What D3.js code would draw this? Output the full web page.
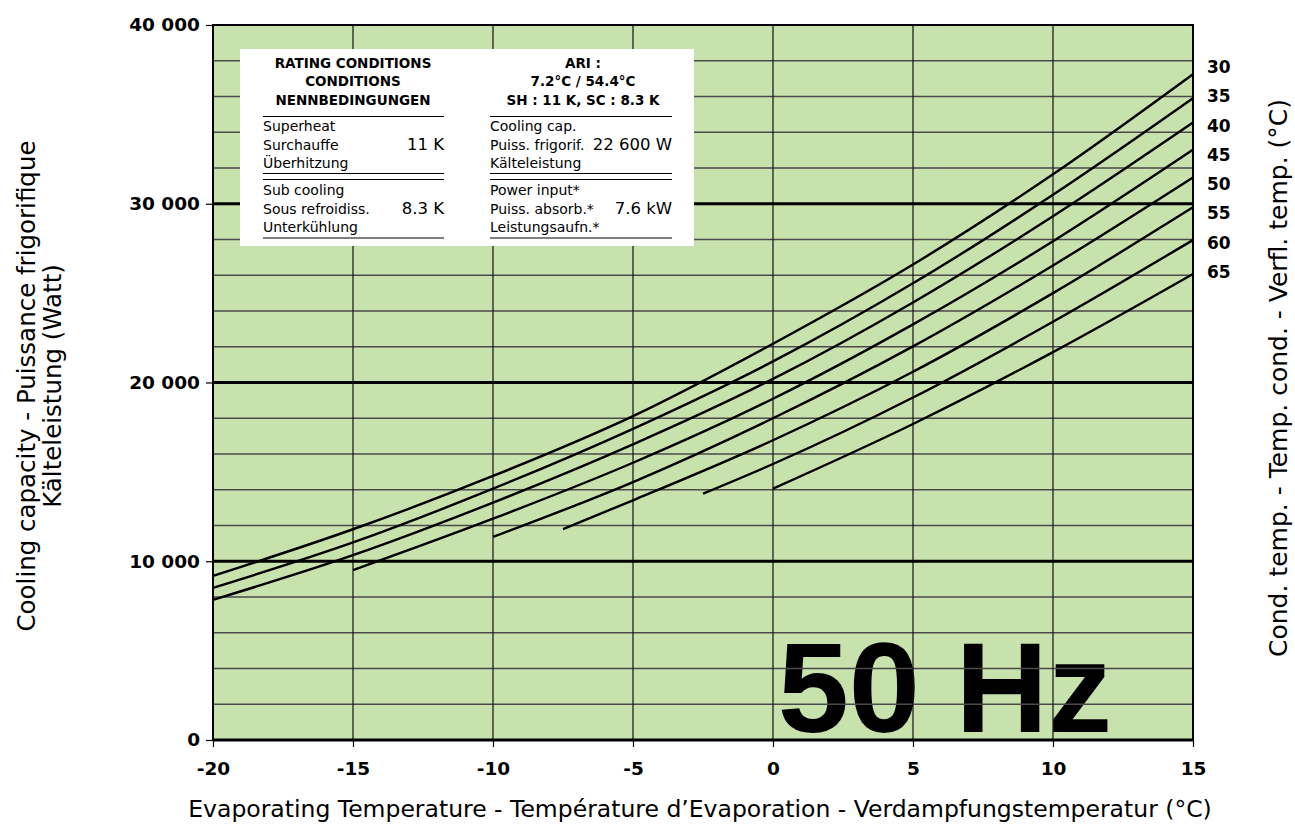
<!DOCTYPE html>
<html>
<head>
<meta charset="utf-8">
<script src="https://cdn.jsdelivr.net/npm/d3@7"></script>
<style>
  body { margin: 0; background: #fff; }
  svg { font-family: "DejaVu Sans", "Liberation Sans", Arial, sans-serif; }
  .tick text { font-weight: bold; }
</style>
</head>
<body>
<svg width="1295" height="828"></svg>
<script>
// x ticks (evaporating temp) and y ticks (capacity)
var xTicks = [-20, -15, -10, -5, 0, 5, 10, 15]
var yTicks = [0, 10000, 20000, 30000, 40000]
var yGrid = [2000, 4000, 6000, 8000, 12000, 14000, 16000, 18000, 22000, 24000, 26000, 28000, 32000, 34000, 36000, 38000]

// condensing temps, one curve each
var condTemps = [30, 35, 40, 45, 50, 55, 60, 65]

// [evap temp, cooling capacity W]
var line30 = [[-20, 9180], [-15, 11790], [-10, 14770], [-5, 18120], [0, 22170], [5, 26600], [10, 31650], [15, 37250]]
var line35 = [[-20, 8510], [-15, 11050], [-10, 14060], [-5, 17410], [0, 21180], [5, 25550], [10, 30500], [15, 35900]]
var line40 = [[-20, 7840], [-15, 10340], [-10, 13280], [-5, 16540], [0, 20200], [5, 24480], [10, 29300], [15, 34540]]
var line45 = [[-15, 9500], [-10, 12380], [-5, 15510], [0, 19090], [5, 23250], [10, 27900], [15, 33020]]
var line50 = [[-10, 11360], [-5, 14430], [0, 18000], [5, 22020], [10, 26550], [15, 31470]]
var line55 = [[-7.5, 11800], [-5, 13410], [0, 16770], [5, 20600], [10, 25000], [15, 29800]]
var line60 = [[-2.5, 13780], [0, 15440], [5, 19160], [10, 23400], [15, 27970]]
var line65 = [[0, 14060], [5, 17680], [10, 21700], [15, 26070]]
var lines = [line30, line35, line40, line45, line50, line55, line60, line65]

// rating conditions box text
var boxHeadLeft = ["RATING CONDITIONS", "CONDITIONS", "NENNBEDINGUNGEN"]
var boxHeadRight = ["ARI :", "7.2°C / 54.4°C", "SH : 11 K, SC : 8.3 K"]
var rowsLeft1 = ["Superheat", "Surchauffe", "Überhitzung"]
var rowsLeft2 = ["Sub cooling", "Sous refroidiss.", "Unterkühlung"]
var rowsRight1 = ["Cooling cap.", "Puiss. frigorif.", "Kälteleistung"]
var rowsRight2 = ["Power input*", "Puiss. absorb.*", "Leistungsaufn.*"]
var boxValues = ["11 K", "8.3 K", "22 600 W", "7.6 kW"]

var margins = {left: 213, right: 102, top: 25, bottom: 88}
var graph = {width: 1295 - margins.left - margins.right, height: 828 - margins.top - margins.bottom}

var svg = d3.select("svg")

var xScale = d3.scaleLinear().domain([-20, 15]).range([0, graph.width])
var yScale = d3.scaleLinear().domain([0, 40000]).range([graph.height, 0])

var fmt = function(v)
{
    return v == 0 ? "0" : d3.format(",")(v).replace(/,/g, " ")
}

var target = svg.append("g")
    .attr("id", "graph")
    .attr("transform", "translate(" + margins.left + "," + margins.top + ")")

target.append("rect")
    .attr("width", graph.width)
    .attr("height", graph.height)
    .attr("fill", "#c8e2ad")

// big label sits under the grid
target.append("text")
    .text("50 Hz")
    .attr("x", 899)
    .attr("y", 707)
    .attr("text-anchor", "end")
    .attr("font-family", "'Liberation Sans', Arial, sans-serif")
    .attr("font-weight", "bold")
    .attr("font-size", 128)
    .attr("fill", "#000")

target.append("g")
    .selectAll("line")
    .data(yGrid)
    .enter()
    .append("line")
    .attr("x1", 0)
    .attr("x2", graph.width)
    .attr("y1", function(d) { return yScale(d) })
    .attr("y2", function(d) { return yScale(d) })
    .attr("stroke", "#4a4a4a")
    .attr("stroke-width", 1.4)

target.append("g")
    .selectAll("line")
    .data(xTicks.slice(1, -1))
    .enter()
    .append("line")
    .attr("x1", function(d) { return xScale(d) })
    .attr("x2", function(d) { return xScale(d) })
    .attr("y1", 0)
    .attr("y2", graph.height)
    .attr("stroke", "#111")
    .attr("stroke-width", 1.2)

target.append("g")
    .selectAll("line")
    .data(yTicks.slice(1, -1))
    .enter()
    .append("line")
    .attr("x1", 0)
    .attr("x2", graph.width)
    .attr("y1", function(d) { return yScale(d) })
    .attr("y2", function(d) { return yScale(d) })
    .attr("stroke", "#000")
    .attr("stroke-width", 3)

// rating box
var box = target.append("g").attr("transform", "translate(27,24)")
box.append("rect")
    .attr("width", 454)
    .attr("height", 197)
    .attr("fill", "#fff")

var addLines = function(g, arr, x, y0, step, anchor, size, weight)
{
    g.selectAll(null)
        .data(arr)
        .enter()
        .append("text")
        .text(function(d) { return d })
        .attr("x", x)
        .attr("y", function(d, i) { return y0 + i * step })
        .attr("text-anchor", anchor)
        .attr("font-size", size)
        .attr("font-weight", weight)
}
var rule = function(g, x1, x2, y)
{
    g.append("line").attr("x1", x1).attr("x2", x2).attr("y1", y).attr("y2", y)
        .attr("stroke", "#000").attr("stroke-width", 1)
}

addLines(box, boxHeadLeft, 113, 19, 18.4, "middle", 13.5, "bold")
addLines(box, boxHeadRight, 343, 19, 18.4, "middle", 13.5, "bold")
rule(box, 23, 204, 67.5)
rule(box, 250, 432, 67.5)
addLines(box, rowsLeft1, 23, 82, 18.6, "start", 14, "normal")
addLines(box, rowsRight1, 250, 82, 18.6, "start", 14, "normal")
rule(box, 23, 204, 124.5)
rule(box, 23, 204, 130.5)
rule(box, 250, 432, 124.5)
rule(box, 250, 432, 130.5)
addLines(box, rowsLeft2, 23, 146, 18.6, "start", 14, "normal")
addLines(box, rowsRight2, 250, 146, 18.6, "start", 14, "normal")
rule(box, 23, 204, 189)
rule(box, 250, 432, 189)
addLines(box, [boxValues[0]], 204, 101, 0, "end", 16.5, "normal")
addLines(box, [boxValues[1]], 204, 165, 0, "end", 16.5, "normal")
addLines(box, [boxValues[2]], 432, 101, 0, "end", 16.5, "normal")
addLines(box, [boxValues[3]], 432, 165, 0, "end", 16.5, "normal")

// capacity curves
var lineGenerator = d3.line()
    .x(function(p) { return xScale(p[0]) })
    .y(function(p) { return yScale(p[1]) })
    .curve(d3.curveMonotoneX)

target.append("g")
    .selectAll("path")
    .data(lines)
    .enter()
    .append("path")
    .attr("d", lineGenerator)
    .attr("fill", "none")
    .attr("stroke", "#000")
    .attr("stroke-width", 2.4)

// frame
target.append("rect")
    .attr("width", graph.width)
    .attr("height", graph.height)
    .attr("fill", "none")
    .attr("stroke", "#000")
    .attr("stroke-width", 2)
target.append("line")
    .attr("x1", 0).attr("x2", graph.width)
    .attr("y1", graph.height).attr("y2", graph.height)
    .attr("stroke", "#000").attr("stroke-width", 3)

// axes
var xAxis = d3.axisBottom(xScale).tickValues(xTicks).tickSize(7).tickSizeOuter(0).tickPadding(15)
    .tickFormat(function(d) { return String(d) })
var yAxis = d3.axisLeft(yScale).tickValues(yTicks).tickSize(7).tickSizeOuter(0).tickPadding(6).tickFormat(fmt)

var gx = target.append("g")
    .attr("transform", "translate(0," + graph.height + ")")
    .call(xAxis)
    .attr("font-family", "'DejaVu Sans', sans-serif")
gx.select(".domain").remove()
gx.selectAll("text").attr("font-size", 18.5).attr("fill", "#000")
gx.selectAll("line").attr("stroke", "#000").attr("stroke-width", 1.2)

var gy = target.append("g").call(yAxis)
    .attr("font-family", "'DejaVu Sans', sans-serif")
gy.select(".domain").remove()
gy.selectAll("text").attr("font-size", 18.5).attr("fill", "#000")
gy.selectAll("line").attr("stroke", "#000").attr("stroke-width", 1.2)

// condensing temp labels on the right
var labelScale = d3.scalePoint().domain(condTemps).range([48, 253])
target.append("g")
    .selectAll("text")
    .data(condTemps)
    .enter()
    .append("text")
    .text(function(d) { return d })
    .attr("x", graph.width + 14)
    .attr("y", function(d) { return labelScale(d) })
    .attr("font-size", 17)
    .attr("font-weight", "bold")

// titles
var labels = svg.append("g").classed("labels", true)

labels.append("text")
    .text("Evaporating Temperature - Température d\u2019Evaporation - Verdampfungstemperatur (°C)")
    .attr("text-anchor", "middle")
    .attr("font-size", 23.5)
    .attr("x", 700)
    .attr("y", 817)

labels.append("g")
    .attr("transform", "translate(35,386)")
    .append("text")
    .text("Cooling capacity - Puissance frigorifique")
    .attr("text-anchor", "middle")
    .attr("font-size", 24.5)
    .attr("transform", "rotate(270)")

labels.append("g")
    .attr("transform", "translate(61,386)")
    .append("text")
    .text("Kälteleistung (Watt)")
    .attr("text-anchor", "middle")
    .attr("font-size", 24.5)
    .attr("transform", "rotate(270)")

labels.append("g")
    .attr("transform", "translate(1287,378)")
    .append("text")
    .text("Cond. temp. - Temp. cond. - Verfl. temp. (°C)")
    .attr("text-anchor", "middle")
    .attr("font-size", 25)
    .attr("transform", "rotate(270)")
</script>
</body>
</html>
